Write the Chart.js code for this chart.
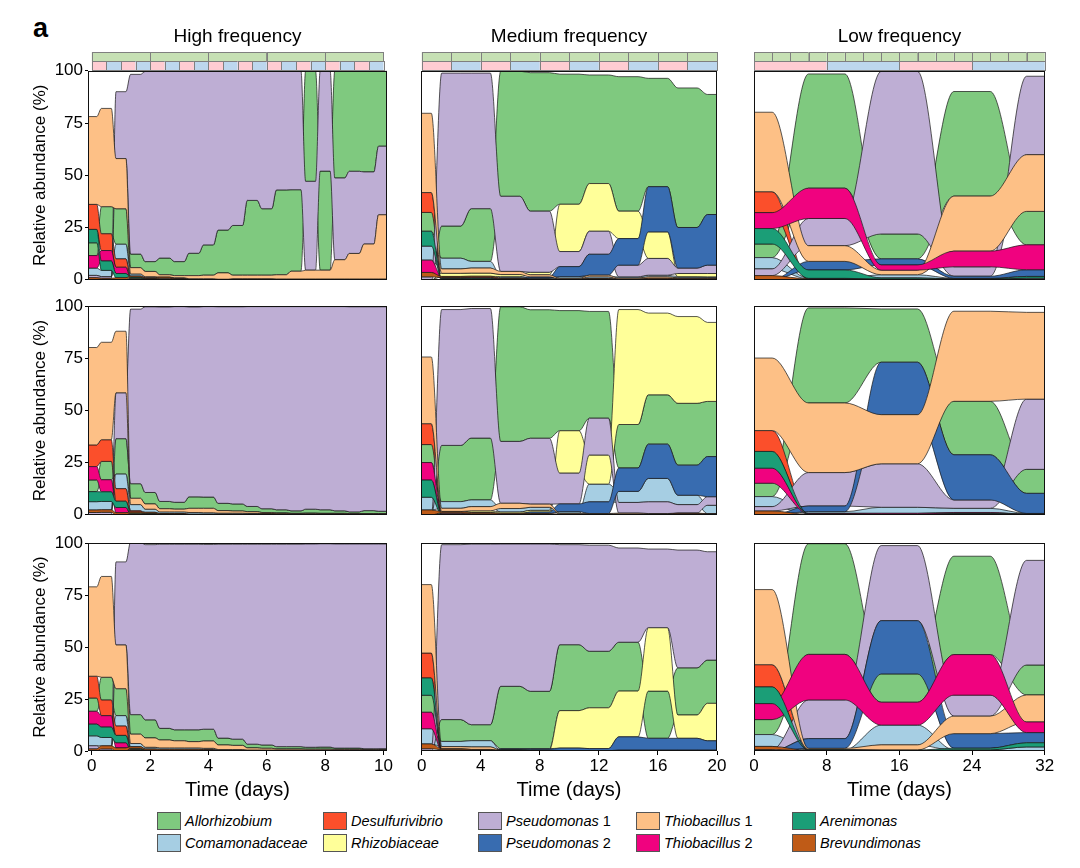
<!DOCTYPE html>
<html>
<head>
<meta charset="utf-8">
<script src="https://cdn.jsdelivr.net/npm/chart.js"></script>
<style>
  body { margin: 0; width: 1080px; height: 868px; background: #fff; position: relative; overflow: hidden;
         font-family: 'Liberation Sans', Arial, sans-serif; color: #000; }
  canvas { position: absolute; }
  #tag { position: absolute; left: 33px; top: 15px; font-size: 27px; line-height: 27px; font-weight: bold; }
  .sw { position: absolute; width: 22px; height: 16px; border: 1px solid #555; }
  .leg { position: absolute; font-size: 14.5px; line-height: 18px; white-space: nowrap; }
</style>
</head>
<body>
<div id="tag">a</div>
<script>
// taxa (legend order) and their fill colours
const taxa = ['Allorhizobium', 'Comamonadaceae', 'Desulfurivibrio', 'Rhizobiaceae', 'Pseudomonas 1',
  'Pseudomonas 2', 'Thiobacillus 1', 'Thiobacillus 2', 'Arenimonas', 'Brevundimonas']
const taxaColors = ['#7fc97f', '#a6cee3', '#fb4f2b', '#ffff99', '#beaed4',
  '#386cb0', '#fdc086', '#f0027f', '#1b9e77', '#bf5b17']

// sampling days per regime
const highDays = [0, 0.5, 1, 1.5, 2, 2.5, 3, 3.5, 4, 4.5, 5, 5.5, 6, 6.5, 7, 7.5, 8, 8.5, 9, 9.5, 10]
const mediumDays = [0, 2, 4, 6, 8, 10, 12, 14, 16, 18, 20]
const lowDays = [0, 8, 16, 24, 32]

const highTicks = [0, 2, 4, 6, 8, 10]
const mediumTicks = [0, 4, 8, 12, 16, 20]
const lowTicks = [0, 8, 16, 24, 32]
const yTicks = [0, 25, 50, 75, 100]
const columnTitles = ['High frequency', 'Medium frequency', 'Low frequency']

// feeding block (green strip) and redox switching period (pink/blue strip), days
const feedBlock = [2, 2, 2]
const switchPeriod = [0.5, 2, 8]

// relative abundance (%), one row per taxon in the order above
const high1 = [
  [6.1, 13, 17, 6.5, 4.7, 8, 6.7, 10.7, 14.5, 20.5, 23.8, 35.8, 31.8, 40.6, 39, 52.9, 47.4, 51.3, 48.1, 48.4, 36.1],
  [3.5, 3, 7, 1, .5, .5, .4, .3, .3, .2, .2, .2, .2, .1, .1, .1, .1, .1, .1, .1, .1],
  [12, 8, 4, .5, .2, .1, .1, 0, 0, 0, 0, 0, 0, 0, 0, 0, 0, 0, 0, 0, 0],
  [0, 0, 0, 0, 0, 0, 0, 0, 0, 0, 0, 0, 0, 0, 0, 0, 0, 0, 0, 0, 0],
  [1.1, .8, 32, 86, 91, 89.5, 91, 87.2, 83.2, 76.1, 73.9, 61.9, 65.9, 56.9, 56.9, 42.5, 48, 39.1, 39.3, 34.5, 32.8],
  [0, 0, 0, 0, 0, 0, 0, 0, 0, 0, 0, 0, 0, 0, 0, 0, 0, 0, 0, 0, 0],
  [42, 47, 24, 3, 2.5, 1.1, 1, 1.5, 1.7, 3, 1.8, 1.8, 1.8, 2.1, 3.8, 4.3, 4.3, 9.3, 12.3, 16.8, 30.8],
  [6, 5, 3, .3, .2, .1, .1, 0, 0, 0, 0, 0, 0, 0, 0, 0, 0, 0, 0, 0, 0],
  [6.4, 4.5, 2, .5, .2, .1, .1, 0, 0, 0, 0, 0, 0, 0, 0, 0, 0, 0, 0, 0, 0],
  [1, .7, 1, .5, .4, .5, .3, .2, .2, .1, .2, .2, .2, .2, .2, .2, .2, .2, .2, .2, .2],
]
const high2 = [
  [5.6, 8.8, 17, 7, 5.5, 3.5, 3.3, 5.5, 5.4, 3.5, 3.4, 2.5, 1.8, 1.5, 1.2, 1.9, 1.7, 1.2, .8, 1.4, 1.1],
  [4, 4, 7, 3, 1.5, .8, .8, .8, .7, .5, .5, .4, .3, .2, .2, .2, .2, .2, .1, .1, .1],
  [10.4, 10.4, 6, .6, .2, .1, .1, 0, 0, 0, 0, 0, 0, 0, 0, 0, 0, 0, 0, 0, 0],
  [0, 0, 0, 0, 0, 0, 0, 0, 0, 0, 0, 0, 0, 0, 0, 0, 0, 0, 0, 0, 0],
  [1.1, 1.2, 22, 83.7, 89, 93.2, 93.8, 91, 91.3, 94.2, 94.5, 95.8, 96.9, 97.4, 97.9, 97.1, 97.4, 97.9, 98.3, 97.7, 98],
  [0, 0, 0, 0, 0, 0, 0, 0, 0, 0, 0, 0, 0, 0, 0, 0, 0, 0, 0, 0, 0],
  [46.7, 46.7, 29.5, 3, 2.5, 1.5, 1.3, 2, 2.1, 1.2, 1, .8, .5, .4, .3, .4, .3, .3, .3, .3, .3],
  [6.4, 5.8, 2.5, .3, .2, .1, .1, 0, 0, 0, 0, 0, 0, 0, 0, 0, 0, 0, 0, 0, 0],
  [4.8, 4.6, 3, .5, .3, .1, .1, 0, 0, 0, 0, 0, 0, 0, 0, 0, 0, 0, 0, 0, 0],
  [1.2, 1.2, 1, .5, .5, .3, .3, .3, .3, .3, .3, .3, .3, .3, .2, .2, .2, .2, .2, .2, .2],
]
const high3 = [
  [6.4, 11, 13, 9.4, 8.7, 5.6, 5.3, 5.7, 5.7, 3.3, 3, 1.8, 1.6, 1.1, 1.1, .9, 1, .6, .6, .4, .3],
  [4.8, 4, 5, 1.5, .8, .7, .7, .7, .6, .4, .4, .3, .3, .2, .2, .2, .2, .2, .2, .2, .2],
  [10.5, 7.5, 4.5, .5, .2, .1, .1, .1, .1, 0, 0, 0, 0, 0, 0, 0, 0, 0, 0, 0, 0],
  [0, 0, 0, 0, 0, 0, 0, 0, 0, 0, 0, 0, 0, 0, 0, 0, 0, 0, 0, 0, 0],
  [1.5, 1, 40, 83.1, 84.3, 88.6, 89.3, 89.3, 88.9, 93.3, 93.8, 96.2, 96.6, 97.4, 97.4, 97.8, 97.8, 98.2, 98.2, 98.5, 98.6],
  [0, 0, 0, 0, 0, 0, 0, 0, 0, 0, 0, 0, 0, 0, 0, 0, 0, 0, 0, 0, 0],
  [43, 48.5, 21, 4.5, 4.5, 3.8, 3.4, 3, 3.5, 2.2, 2, 1, .8, .6, .6, .5, .5, .4, .4, .3, .3],
  [6.2, 5.5, 2.5, .3, .1, .1, .1, .1, .1, 0, 0, 0, 0, 0, 0, 0, 0, 0, 0, 0, 0],
  [5.6, 5, 3.5, .5, .2, .1, .1, .1, .1, 0, 0, 0, 0, 0, 0, 0, 0, 0, 0, 0, 0],
  [1, 1.5, 1.5, .8, .5, .5, .5, .5, .4, .3, .3, .2, .2, .2, .2, .2, .2, .2, .2, .2, .2],
]

const medium1 = [
  [9, 15.4, 25.2, 59.8, 66.2, 62.2, 51.9, 64.3, 51.8, 66.7, 57.4],
  [6.7, 5.1, 3.2, .6, .5, .8, .8, .6, .8, .6, .5],
  [9.5, .3, .3, .1, .1, 0, .1, 0, 0, .1, .1],
  [0, 1.5, 1.5, 1, 1.2, 22.6, 22.8, 13.1, 12.7, 1.5, 1.6],
  [1.5, 73.1, 64.8, 35.9, 29.2, 7.2, 11, 5.6, 8, 2.6, 4],
  [0, .1, .2, .3, .5, 4.8, 10, 12.7, 21.6, 19.4, 24.2],
  [37.9, 2.1, 2.4, 1.5, 1, .4, .8, .5, .7, .4, .4],
  [5.9, .5, .5, .2, .1, .1, .2, .1, .2, .1, .1],
  [7.1, .3, .3, .1, .1, .1, .1, .1, .2, .1, .1],
  [2.1, .5, .5, .3, .2, .2, .3, .2, .4, .3, .3],
]
const medium2 = [
  [8.6, 26.9, 29.6, 64.4, 61.5, 57.5, 51.1, 20.8, 23.6, 29.6, 26.4],
  [6.1, 3.2, 3.2, 1.7, 1.5, .8, 8.5, 5.3, 11.2, 4.5, 4],
  [10, .2, .2, .05, .1, .05, .05, .05, .05, .05, .05],
  [0, .5, .8, .6, .8, 20.3, 13.9, 55, 39.1, 41.5, 37.8],
  [0, 65, 62, 29.6, 31.5, 14.7, 17.6, 5.1, 5.6, 4, 4.1],
  [0, 0, 0, .2, .7, 3.7, 5.6, 11.2, 16.4, 14.4, 19.2],
  [31.9, 1.5, 2, 2.5, 1.5, .4, .3, .5, .3, .3, .2],
  [8.4, .3, .3, .1, .1, .1, .1, .1, .1, .2, .1],
  [8.2, .1, .1, .05, .1, .05, .05, .05, .05, .1, .1],
  [2.4, .6, .6, .4, .4, .2, .2, .2, .2, .3, .2],
]
const medium3 = [
  [8.2, 10.5, 7.7, 30, 27.6, 31.7, 27.2, 23.5, 22.7, 22.7, 20.8],
  [7.3, 2.5, 3, .1, .1, .05, .05, .1, .1, .1, .1],
  [12, .1, .05, 0, 0, 0, 0, 0, 0, 0, 0],
  [0, .3, .2, .3, .3, 18, 19.6, 22, 30.5, 11.2, 18],
  [1.1, 84.1, 86.8, 68.4, 70.8, 48.1, 51, 45.3, 37.8, 56.6, 52.1],
  [0, 0, 0, .4, .5, 1.2, 1, 6.4, 5.7, 5.7, 4.5],
  [32.9, 1, 1.2, .2, .1, .1, .05, .1, .1, .1, .1],
  [7.9, .1, .05, 0, 0, 0, 0, 0, 0, 0, 0],
  [8.3, .1, .05, 0, 0, 0, 0, 0, 0, 0, 0],
  [2.3, .5, .4, .1, .1, .05, .05, .2, .2, .2, .2],
]

const low1 = [
  [6.5, 54.6, 11.9, 50, 16],
  [5.4, .3, 1.5, .3, .5],
  [10, .2, .1, .1, .1],
  [0, .1, .1, .1, .1],
  [3.2, 13, 77.7, 4.5, 37.5],
  [0, 4.1, 2.9, 1, 3.2],
  [38, 7.5, 2.2, 26.3, 27.1],
  [7.6, 14.5, 2.5, 7.5, 11.9],
  [7.4, 4, .6, .2, .8],
  [2.1, .2, .2, .1, .2],
]
const low2 = [
  [6.4, 45.5, 25.5, 25.6, 11.5],
  [4.8, .8, 2.9, 2, .3],
  [10, .1, .1, .1, .1],
  [0, .1, .05, .1, .05],
  [2.1, 16, 20.8, 4, 33.6],
  [0, 2.7, 25.1, 21.6, 9.6],
  [34.7, 33.3, 23.5, 43.1, 41.5],
  [7.2, .3, .5, .5, .1],
  [8, .2, .1, .3, .1],
  [1.9, .1, .05, .2, .1],
]
const low3 = [
  [7.2, 53.2, 13.6, 47.3, 14.4],
  [5.7, .2, 9.5, .3, 1.8],
  [10.7, .1, .1, .1, .05],
  [0, .05, .05, .05, .05],
  [.7, 18.6, 36.1, 10.1, 50.3],
  [0, 4.7, 25.6, 7, 4.9],
  [36.1, .6, 2.5, 8.4, 13],
  [7.7, 21.9, 11, 19.5, 5.1],
  [8, .2, .2, .8, 2],
  [1.5, .1, .1, .1, .05],
]

const panels = [[high1, medium1, low1], [high2, medium2, low2], [high3, medium3, low3]]
const dayLists = [highDays, mediumDays, lowDays]
const tickLists = [highTicks, mediumTicks, lowTicks]

// layout (pixels) and per-column x window / stratum half width (days)
const colBox = [[88, 387], [421, 717], [754, 1045]]
const rowBox = [[71, 280], [306, 515], [543, 751]]
const xWindow = [[-0.13, 10.12], [-0.05, 20], [0, 32.03]]
const halfWidth = [0.17, 0.65, 2]

Chart.defaults.font.family = "'Liberation Sans', Arial, sans-serif"
Chart.defaults.color = '#000'

// stack taxa at each day smallest-first (largest on top), then link days with flows
function alluvialDatasets(values, days, half) {
  const lo = values.map(() => []), hi = values.map(() => [])
  days.forEach((_, i) => {
    const order = values.map((_, k) => k).sort((a, b) => values[a][i] - values[b][i] || a - b)
    let y = 0
    order.forEach(k => { lo[k][i] = y; y += values[k][i]; hi[k][i] = y })
  })
  const pts = arr => days.flatMap((d, i) => [{ x: d - half, y: arr[i] }, { x: d + half, y: arr[i] }])
  const common = { borderColor: 'rgba(25,25,25,0.9)', borderWidth: 0.8, pointRadius: 0, cubicInterpolationMode: 'monotone' }
  const out = []
  values.forEach((_, k) => {
    out.push({ ...common, label: taxa[k], data: pts(hi[k]), fill: 2 * k + 1, backgroundColor: taxaColors[k], order: -2 * k })
    out.push({ ...common, label: taxa[k] + ' lower', data: pts(lo[k]), fill: false, order: -2 * k - 1 })
  })
  return out
}

// panel box and the treatment strips above the top row
const framePlugin = {
  id: 'frame',
  afterDraw(chart, args, opts) {
    const { ctx, chartArea: a } = chart
    const x = chart.scales.x
    ctx.save()
    if (opts.strip) {
      const { end, block, period } = opts.strip
      ctx.strokeStyle = '#7f7f7f'
      ctx.lineWidth = 1
      const tiles = (size, y, colorAt) => {
        for (let s = 0, n = 0; s < end - 1e-9; s += size, n++) {
          const x0 = x.getPixelForValue(s), x1 = x.getPixelForValue(Math.min(s + size, end))
          ctx.fillStyle = colorAt(n)
          ctx.fillRect(x0, y, x1 - x0, 9)
          ctx.strokeRect(Math.round(x0) + .5, y + .5, Math.round(x1 - x0), 9)
        }
      }
      tiles(block, Math.round(a.top) - 19, () => '#c6e0b4')
      tiles(period, Math.round(a.top) - 10, n => n % 2 ? '#bdd7ee' : '#ffccd2')
    }
    ctx.strokeStyle = '#111'
    ctx.lineWidth = 1
    ctx.strokeRect(Math.round(a.left) + .5, Math.round(a.top) + .5, Math.round(a.right - a.left) - 1, Math.round(a.bottom - a.top) - 1)
    ctx.restore()
  }
}

for (let r = 0; r < 3; r++) {
  for (let c = 0; c < 3; c++) {
    const pad = { left: c === 0 ? 0 : 10, right: 14, top: r === 0 ? 0 : 12, bottom: r === 2 ? 3 : 12 }
    const left = c === 0 ? 0 : colBox[c][0] - 10
    const right = colBox[c][1] + 14
    const top = r === 0 ? 0 : rowBox[r][0] - 12
    const bottom = r === 2 ? rowBox[r][1] + 57 : rowBox[r][1] + 12
    const cv = document.createElement('canvas')
    cv.width = right - left
    cv.height = bottom - top
    cv.style.left = left + 'px'
    cv.style.top = top + 'px'
    document.body.appendChild(cv)

    const days = dayLists[c]
    const showX = r === 2, showY = c === 0
    new Chart(cv, {
      type: 'line',
      data: { datasets: alluvialDatasets(panels[r][c], days, halfWidth[c]) },
      plugins: [framePlugin],
      options: {
        responsive: false,
        animation: false,
        events: [],
        layout: { padding: pad },
        plugins: {
          legend: { display: false },
          tooltip: { enabled: false },
          title: {
            display: r === 0, text: columnTitles[c], fullSize: false, color: '#000',
            font: { size: 19, weight: 'normal' }, padding: { top: 25, bottom: 23 }
          },
          frame: { strip: r === 0 ? { end: days[days.length - 1], block: feedBlock[c], period: switchPeriod[c] } : null }
        },
        scales: {
          x: {
            type: 'linear', min: xWindow[c][0], max: xWindow[c][1], display: showX,
            afterBuildTicks: s => { s.ticks = tickLists[c].map(v => ({ value: v })) },
            afterFit: s => { s.height = showX ? 54 : 0 },
            grid: { drawOnChartArea: false, drawTicks: true, tickLength: 4, color: '#000' },
            border: { display: false },
            ticks: { font: { size: 17 }, padding: 1, maxRotation: 0, autoSkip: false },
            title: { display: true, text: 'Time (days)', font: { size: 20 }, padding: { top: 0, bottom: 3 } }
          },
          y: {
            min: 0, max: 100, display: showY,
            afterBuildTicks: s => { s.ticks = yTicks.map(v => ({ value: v })) },
            afterFit: s => { s.width = showY ? 88 : 0 },
            grid: { drawOnChartArea: false, drawTicks: true, tickLength: 3, color: '#000' },
            border: { display: false },
            ticks: { font: { size: 17 }, padding: 2 },
            title: { display: true, text: 'Relative abundance (%)', font: { size: 17 }, padding: { top: 30, bottom: 0 } }
          }
        }
      }
    })
  }
}

// legend: taxa laid out column by column, two rows
const legendX = [157, 323, 478, 636, 792]
taxa.forEach((name, k) => {
  const lx = legendX[Math.floor(k / 2)], ly = 812 + (k % 2) * 22
  const sw = document.createElement('div')
  sw.className = 'sw'
  sw.style.left = lx + 'px'
  sw.style.top = ly + 'px'
  sw.style.background = taxaColors[k]
  document.body.appendChild(sw)
  const tx = document.createElement('div')
  tx.className = 'leg'
  tx.style.left = lx + 28 + 'px'
  tx.style.top = ly + 'px'
  const [, genus, num] = name.match(/^(\S+)( \d)?$/)
  tx.innerHTML = '<i>' + genus + '</i>' + (num || '')
  document.body.appendChild(tx)
})
</script>
</body>
</html>
